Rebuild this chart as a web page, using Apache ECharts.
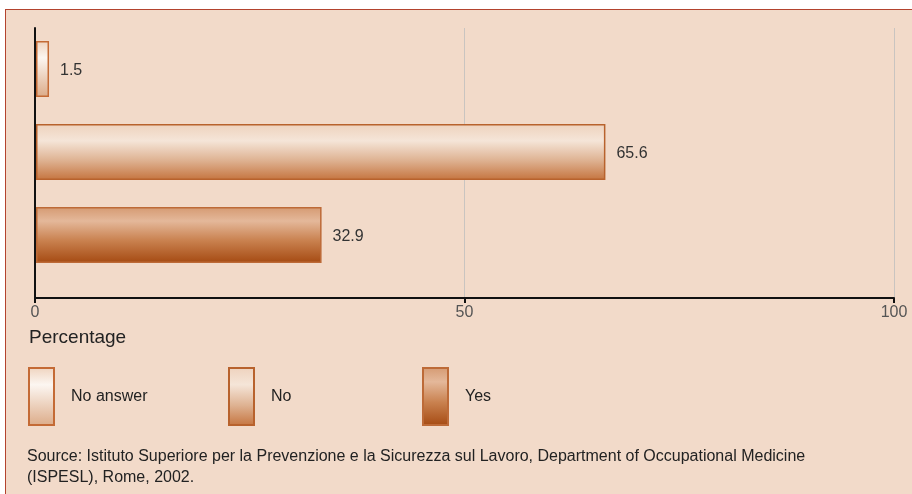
<!DOCTYPE html>
<html>
<head>
<meta charset="utf-8">
<script src="https://cdn.jsdelivr.net/npm/echarts@6/dist/echarts.min.js"></script>
<style>
    html, body { margin: 0; padding: 0; background: #fff; }
    .panel { position: absolute; left: 5px; top: 9px; width: 920px; height: 500px;
             background: #f2dac9; border: 1px solid #b3432e; }
    #chart { position: absolute; left: 0; top: 0; width: 912px; height: 494px; }
</style>
</head>
<body>
<div class="panel"></div>
<div id="chart"></div>
<script>

var categories = ["No answer", "No", "Yes"];
var values = [1.5, 65.6, 32.9];
var xTicks = [0, 50, 100];

var fills = [
    [[0, "#efd3be"], [0.3, "#fcf6f1"], [1, "#dcab88"]],
    [[0, "#eed2bd"], [0.3, "#f5e5d8"], [0.65, "#deb292"], [1, "#c5743f"]],
    [[0, "#d59a72"], [0.25, "#e4b89a"], [0.6, "#c9814f"], [1, "#a54a12"]]
];
var borders = ["#c46a35", "#b8622d", "#bd6a37"];

function grad(stops) {
    return new echarts.graphic.LinearGradient(0, 0, 0, 1, stops.map(function (s) {
        return { offset: s[0], color: s[1] };
    }));
}

var chart = echarts.init(document.getElementById("chart"));

var series = categories.map(function (name, k) {
    return {
        name : name,
        type : "bar",
        xAxisIndex : 1,
        yAxisIndex : 1,
        stack : "all",
        barWidth : 56,
        data : values.map(function (v, i) { return i === k ? v : "-"; }),
        itemStyle : {
            color : grad(fills[k]),
            borderColor : borders[k],
            borderWidth : 1.5
        },
        label : {
            show : true,
            position : "right",
            distance : 11,
            offset : [0, 2],
            color : "#333",
            fontSize : 16,
            fontFamily : "Liberation Sans"
        }
    };
});

var legendLeft = [28, 228, 422];

var option = {
    animation : false,
    textStyle : { fontFamily : "Liberation Sans" },
    title : [
        {
            text : "Percentage",
            left : 29,
            top : 328,
            padding : 0,
            textStyle : { fontSize : 19, fontWeight : "normal", color : "#222" }
        },
        {
            text : "Source: Istituto Superiore per la Prevenzione e la Sicurezza sul Lavoro, Department of Occupational Medicine\n(ISPESL), Rome, 2002.",
            left : 27,
            top : 446,
            padding : 0,
            textStyle : { fontSize : 16, fontWeight : "normal", color : "#222", lineHeight : 21 }
        }
    ],
    legend : categories.map(function (name, k) {
        return {
            data : [name],
            left : legendLeft[k],
            top : 367,
            padding : 0,
            icon : "rect",
            itemWidth : 25,
            itemHeight : 57,
            selectedMode : false,
            textStyle : { fontSize : 16, color : "#222", padding : [0, 0, 0, 12] }
        };
    }),
    grid : [
        { left : 35, right : 18, top : 28, bottom : 196 },
        { left : 36, right : 8, top : 27.5, bottom : 217.5 }
    ],
    xAxis : [
        {
            gridIndex : 0,
            type : "value",
            min : xTicks[0],
            max : xTicks[xTicks.length - 1],
            interval : 50,
            axisLine : { show : true, lineStyle : { color : "#111", width : 2 } },
            axisTick : { show : true, length : 5, lineStyle : { color : "#111", width : 2 } },
            axisLabel : { color : "#555", fontSize : 16, margin : 7 },
            splitLine : { show : true, lineStyle : { color : "#c9c4c0", width : 1 } }
        },
        {
            gridIndex : 1,
            type : "value",
            min : 0,
            max : 100,
            show : false
        }
    ],
    yAxis : [
        {
            gridIndex : 0,
            type : "value",
            min : 0,
            max : 1,
            axisLine : { show : true, lineStyle : { color : "#111", width : 2 } },
            axisTick : { show : false },
            axisLabel : { show : false },
            splitLine : { show : false }
        },
        {
            gridIndex : 1,
            type : "category",
            inverse : true,
            data : categories,
            show : false
        }
    ],
    series : series
};

chart.setOption(option);

</script>
</body>
</html>
